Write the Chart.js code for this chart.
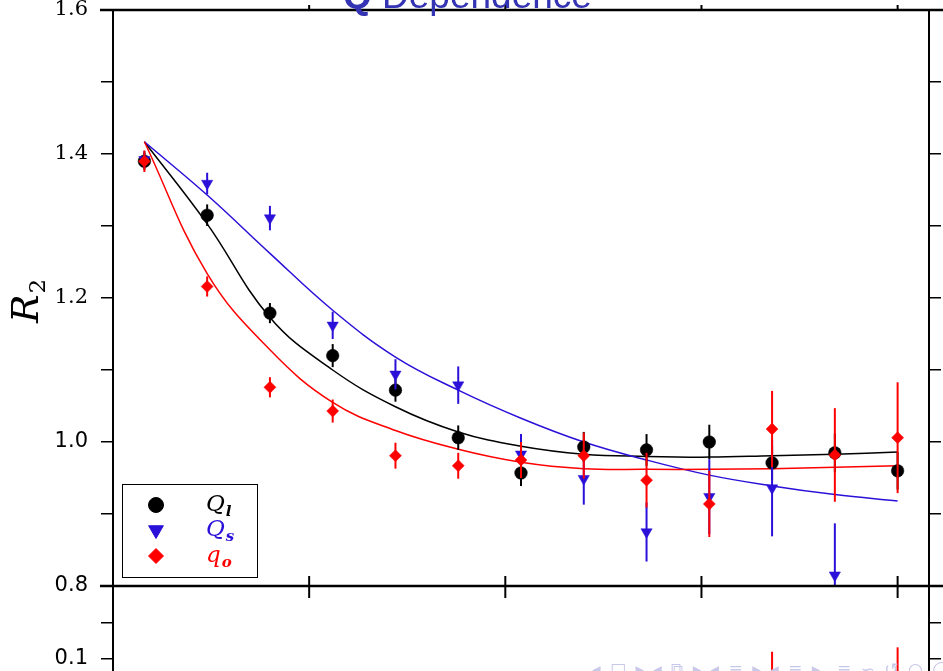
<!DOCTYPE html>
<html>
<head>
<meta charset="utf-8">
<title>Q Dependence</title>
<script src="https://cdn.jsdelivr.net/npm/chart.js@4.4.1/dist/chart.umd.min.js"></script>
<style>
  html, body { margin: 0; padding: 0; background: #fff; overflow: hidden; }
  #wrap { position: relative; width: 943px; height: 671px; overflow: hidden; }
  #top { position: absolute; left: 0; top: 0; }
  #bottom { position: absolute; left: 0; top: 586px; }
  #nav { position: absolute; left: 592px; top: 659px; font: 17px "DejaVu Sans"; color: #c8c8e8; white-space: nowrap; letter-spacing: 2px; }
</style>
</head>
<body>
<div id="wrap">
  <canvas id="bottom" width="943" height="160"></canvas>
  <canvas id="top" width="943" height="600"></canvas>
  <div id="nav">◂ □ ▸ ◂ ⧉ ▸ ◂ ≡ ▸ ◂ ≡ ▸ &nbsp;≡ ∽ ↺ ○ ◯</div>
</div>
<script>
// bin centres in Q and the three R2 measurements with their errors
const qBins = [0.04, 0.12, 0.20, 0.28, 0.36, 0.44, 0.52, 0.60, 0.68, 0.76, 0.84, 0.92, 1.00];
const xTickValues = [0.25, 0.5, 0.75, 1.0];

const rQl = [1.390, 1.315, 1.179, 1.120, 1.072, 1.006, 0.957, 0.993, 0.989, 1.000, 0.971, 0.985, 0.960];
const eQl = [0.012, 0.015, 0.014, 0.016, 0.016, 0.017, 0.018, 0.021, 0.022, 0.024, 0.024, 0.027, 0.026];

const rQs = [1.392, 1.359, 1.311, 1.162, 1.094, 1.079, 0.983, 0.949, 0.875, 0.924, 0.936, 0.815, null];
const eQs = [0.012, 0.015, 0.017, 0.019, 0.021, 0.026, 0.028, 0.036, 0.041, 0.052, 0.067, 0.072, null];

const rQo = [1.390, 1.216, 1.076, 1.043, 0.981, 0.967, 0.975, 0.981, 0.947, 0.914, 1.018, 0.982, 1.006];
const eQo = [0.015, 0.014, 0.014, 0.016, 0.018, 0.018, 0.025, 0.032, 0.038, 0.046, 0.053, 0.065, 0.077];

// fitted curves, sampled at the bin centres
const fitQl = [1.417, 1.303, 1.173, 1.100, 1.049, 1.014, 0.994, 0.983, 0.980, 0.979, 0.981, 0.983, 0.986];
const fitQs = [1.417, 1.343, 1.262, 1.183, 1.118, 1.072, 1.033, 1.000, 0.975, 0.954, 0.939, 0.927, 0.918];
const fitQo = [1.417, 1.234, 1.128, 1.055, 1.016, 0.990, 0.972, 0.963, 0.962, 0.962, 0.963, 0.965, 0.967];

// lower panel, only the top of two error bars reaches into view
const lowQ = [0.84, 1.00];
const lowQo = [0.070, 0.070];
const lowEQo = [0.040, 0.046];

const BLUE = '#2a10d8', RED = '#ff0000', BLACK = '#000000';

const pts = (xs, ys) => xs.map((x, i) => ({x: x, y: ys[i]}));

const errBars = {
    id: 'errBars',
    beforeDatasetDraw(chart, args) {
        const ds = chart.data.datasets[args.index];
        if (!ds.err) return;
        const {ctx, chartArea: a} = chart, x = chart.scales.x, y = chart.scales.y;
        ctx.save();
        ctx.beginPath();
        ctx.rect(a.left, a.top, a.right - a.left, a.bottom - a.top);
        ctx.clip();
        ctx.strokeStyle = ds.borderColor;
        ctx.lineWidth = 2;
        ds.data.forEach((p, i) => {
            if (p.y == null || ds.err[i] == null) return;
            const px = x.getPixelForValue(p.x);
            ctx.beginPath();
            ctx.moveTo(px, y.getPixelForValue(p.y - ds.err[i]));
            ctx.lineTo(px, y.getPixelForValue(p.y + ds.err[i]));
            ctx.stroke();
        });
        ctx.restore();
    }
};

// frame lines running past the axes, and the Q ticks crossing the bottom edge
const frame = {
    id: 'frame',
    afterDraw(chart, args, opts) {
        const {ctx, chartArea: a} = chart, x = chart.scales.x;
        ctx.save();
        ctx.strokeStyle = '#000';
        ctx.lineWidth = 2.5;
        (opts.lines || []).forEach(yy => {
            const py = yy === 'top' ? a.top : a.bottom;
            ctx.beginPath(); ctx.moveTo(100, py); ctx.lineTo(943, py); ctx.stroke();
        });
        if (opts.xticks) {
            ctx.lineWidth = 2;
            xTickValues.forEach(v => {
                const px = x.getPixelForValue(v);
                ctx.beginPath(); ctx.moveTo(px, a.bottom - 10); ctx.lineTo(px, a.bottom + 12); ctx.stroke();
                ctx.beginPath(); ctx.moveTo(px, a.top - 5); ctx.lineTo(px, a.top); ctx.stroke();
            });
        }
        ctx.restore();
    }
};

const labels = {
    id: 'labels',
    afterDraw(chart) {
        const {ctx, chartArea: a} = chart;
        ctx.save();
        // title
        ctx.fillStyle = '#3333b3';
        ctx.textBaseline = 'alphabetic';
        ctx.font = 'bold 37px "Liberation Sans"';
        ctx.fillText('Q', 343, 8);
        const wq = ctx.measureText('Q').width;
        ctx.font = '37px "Liberation Sans"';
        ctx.fillText(' Dependence', 343 + wq, 8);

        // R2 axis title
        ctx.fillStyle = '#000';
        ctx.translate(38, 323);
        ctx.rotate(-Math.PI / 2);
        ctx.font = 'italic 38px "DejaVu Serif"';
        ctx.fillText('R', 0, 0);
        const wr = ctx.measureText('R').width;
        ctx.font = '23px "DejaVu Serif"';
        ctx.fillText('2', wr + 1, 7);
        ctx.restore();

        // legend box
        const bx = a.left + 9, by = a.bottom - 102, bw = 135, bh = 93;
        ctx.save();
        ctx.fillStyle = '#fff';
        ctx.fillRect(bx, by, bw, bh);
        ctx.strokeStyle = '#000';
        ctx.lineWidth = 1;
        ctx.strokeRect(bx + 0.5, by + 0.5, bw, bh);
        const rows = [
            {style: 'circle', rot: 0, r: 7.5, color: BLACK, main: 'Q', sub: 'l', dy: 21},
            {style: 'triangle', rot: 180, r: 8.5, color: BLUE, main: 'Q', sub: 's', dy: 46},
            {style: 'rectRot', rot: 0, r: 7.5, color: RED, main: 'q', sub: 'o', dy: 72}
        ];
        rows.forEach(row => {
            ctx.fillStyle = row.color;
            ctx.strokeStyle = row.color;
            Chart.helpers.drawPoint(ctx, {pointStyle: row.style, rotation: row.rot, radius: row.r, borderWidth: 1}, bx + 34, by + row.dy);
            ctx.font = 'italic 23px "DejaVu Serif"';
            ctx.textBaseline = 'middle';
            ctx.fillText(row.main, bx + 84, by + row.dy);
            const w = ctx.measureText(row.main).width;
            ctx.font = 'italic bold 15px "DejaVu Serif"';
            ctx.fillText(row.sub, bx + 85 + w, by + row.dy + 7);
        });
        ctx.restore();
    }
};

const xScale = (h) => ({
    type: 'linear', min: 0, max: 1.04,
    afterBuildTicks: s => { s.ticks = xTickValues.map(v => ({value: v})); },
    afterFit: s => { s.height = h; s.paddingLeft = 0; s.paddingRight = 0; },
    grid: {display: false}, ticks: {display: false}, border: {display: false}
});

const sideScales = (min, max, step, labelFn, fontFn) => ({
    y: {
        type: 'linear', position: 'left', min: min, max: max,
        afterFit: s => { s.width = 113; s.paddingTop = 0; s.paddingBottom = 0; },
        ticks: {stepSize: step, padding: 13, color: '#000', font: fontFn, callback: labelFn},
        grid: {drawOnChartArea: false, tickLength: 12, color: '#000', lineWidth: 1.5},
        border: {color: '#000', width: 2}
    },
    y2: {
        type: 'linear', position: 'right', min: min, max: max,
        afterFit: s => { s.width = 14; s.paddingTop = 0; s.paddingBottom = 0; },
        ticks: {stepSize: step, display: false},
        grid: {drawOnChartArea: false, tickLength: 12, color: '#000', lineWidth: 1.5},
        border: {color: '#000', width: 2}
    }
});

const markers = (label, ys, errs, color, style, radius, rot, order) => ({
    label: label, data: pts(qBins, ys), err: errs, order: order,
    showLine: false, pointStyle: style, pointRadius: radius, pointRotation: rot,
    backgroundColor: color, borderColor: color, pointBorderWidth: 0.5
});

const curve = (ys, color, order) => ({
    data: pts(qBins, ys), order: order, showLine: true, pointRadius: 0,
    borderColor: color, borderWidth: 1.5, tension: 0.4, fill: false
});

const topScales = Object.assign({x: xScale(14)}, sideScales(0.8, 1.6, 0.1,
    v => Math.round(v * 10) % 2 === 0 ? v.toFixed(1) : '',
    c => ({family: c.tick && c.tick.value > 1.1 ? 'DejaVu Serif' : 'DejaVu Sans', size: 21})));

new Chart(document.getElementById('top'), {
    type: 'scatter',
    data: {
        datasets: [
            curve(fitQl, BLACK, 12),
            curve(fitQs, BLUE, 11),
            curve(fitQo, RED, 10),
            markers('Ql', rQl, eQl, BLACK, 'circle', 6.3, 0, 3),
            markers('Qs', rQs, eQs, BLUE, 'triangle', 6.5, 180, 2),
            markers('qo', rQo, eQo, RED, 'rectRot', 6, 0, 1)
        ]
    },
    options: {
        responsive: false, animation: false, events: [],
        layout: {autoPadding: false, padding: {top: 10, left: 0, right: 0, bottom: 0}},
        plugins: {legend: {display: false}, tooltip: {enabled: false}, frame: {lines: ['top', 'bottom'], xticks: true}},
        scales: topScales
    },
    plugins: [errBars, frame, labels]
});

const lowScales = Object.assign({x: xScale(14)}, sideScales(0, 0.2, 0.05,
    v => Math.abs(v - 0.1) < 1e-9 ? '0.1' : '',
    () => ({family: 'DejaVu Sans', size: 21})));

new Chart(document.getElementById('bottom'), {
    type: 'scatter',
    data: {
        datasets: [{
            data: pts(lowQ, lowQo), err: lowEQo, showLine: false,
            pointStyle: 'rectRot', pointRadius: 6, backgroundColor: RED, borderColor: RED
        }]
    },
    options: {
        responsive: false, animation: false, events: [],
        layout: {autoPadding: false, padding: 0},
        plugins: {legend: {display: false}, tooltip: {enabled: false}, frame: {lines: []}},
        scales: lowScales
    },
    plugins: [errBars, frame]
});
</script>
</body>
</html>
